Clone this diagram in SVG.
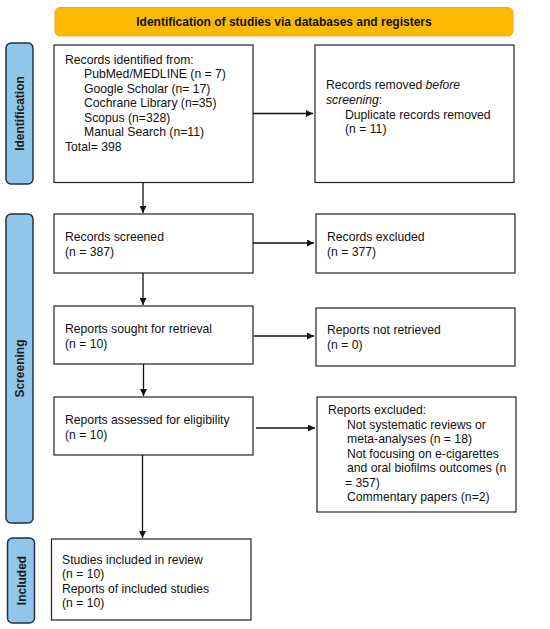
<svg xmlns="http://www.w3.org/2000/svg" width="550" height="629" viewBox="0 0 550 629">
<style>
.box{fill:#fff;stroke:#222;stroke-width:1.2}
.side{fill:#8fc6ea;stroke:#26313d;stroke-width:1.5}
.t{font-family:"Liberation Sans",Arial,sans-serif;font-size:12.2px;fill:#111}
.st{font-family:"Liberation Sans",Arial,sans-serif;font-size:12px;font-weight:bold;fill:#1a1a1a}
.bt{font-family:"Liberation Sans",Arial,sans-serif;font-size:12px;font-weight:bold;fill:#111}
.c{stroke:#111;stroke-width:1.3;fill:none;marker-end:url(#ah)}
</style>
<defs>
<marker id="ah" viewBox="0 0 10 10" refX="10" refY="5" markerWidth="7" markerHeight="7" markerUnits="userSpaceOnUse" orient="auto">
<path d="M0,0 L10,5 L0,10 Z" fill="#111"/>
</marker>
</defs>
<rect width="550" height="629" fill="#fff"/>
<g id="banner">
<rect x="55" y="7.5" width="458" height="28.5" rx="5" fill="#fbba00" stroke="#f0a830" stroke-width="1"/>
<text class="bt" x="284" y="26" text-anchor="middle">Identification of studies via databases and registers</text>
</g>
<g id="side-identification">
<rect class="side" x="6" y="43" width="27" height="141" rx="5"/>
<text class="st" transform="translate(24,113.5) rotate(-90)" text-anchor="middle">Identification</text>
</g>
<g id="side-screening">
<rect class="side" x="6" y="214" width="27" height="309" rx="5"/>
<text class="st" transform="translate(24,368.5) rotate(-90)" text-anchor="middle">Screening</text>
</g>
<g id="side-included">
<rect class="side" x="7.5" y="538" width="27" height="85" rx="5"/>
<text class="st" transform="translate(25.5,580.5) rotate(-90)" text-anchor="middle">Included</text>
</g>
<g id="records-identified">
<rect class="box" x="54" y="45" width="199" height="137.5"/>
<text class="t" x="65" y="63.5">Records identified from:</text>
<text class="t" x="84" y="78">PubMed/MEDLINE (n = 7)</text>
<text class="t" x="84" y="92.5">Google Scholar (n= 17)</text>
<text class="t" x="84" y="107">Cochrane Library (n=35)</text>
<text class="t" x="84" y="121.5">Scopus (n=328)</text>
<text class="t" x="84" y="136">Manual Search (n=11)</text>
<text class="t" x="65" y="150.5">Total= 398</text>
</g>
<g id="records-removed">
<rect class="box" x="315" y="45" width="199" height="137.5"/>
<text class="t" x="326" y="89">Records removed <tspan font-style="italic">before</tspan></text>
<text class="t" x="326" y="104"><tspan font-style="italic">screening</tspan>:</text>
<text class="t" x="345" y="118.5">Duplicate records removed</text>
<text class="t" x="345" y="133">(n = 11)</text>
</g>
<g id="records-screened">
<rect class="box" x="54" y="214" width="199" height="59"/>
<text class="t" x="65" y="241">Records screened</text>
<text class="t" x="65" y="256">(n = 387)</text>
</g>
<g id="records-excluded">
<rect class="box" x="316" y="214" width="199" height="59"/>
<text class="t" x="327" y="241">Records excluded</text>
<text class="t" x="327" y="256">(n = 377)</text>
</g>
<g id="reports-sought">
<rect class="box" x="54" y="306" width="199" height="58"/>
<text class="t" x="65" y="333">Reports sought for retrieval</text>
<text class="t" x="65" y="348">(n = 10)</text>
</g>
<g id="reports-not-retrieved">
<rect class="box" x="316" y="308" width="199" height="58"/>
<text class="t" x="327" y="334">Reports not retrieved</text>
<text class="t" x="327" y="349">(n = 0)</text>
</g>
<g id="reports-assessed">
<rect class="box" x="54" y="397" width="199" height="58"/>
<text class="t" x="65" y="424">Reports assessed for eligibility</text>
<text class="t" x="65" y="439">(n = 10)</text>
</g>
<g id="reports-excluded">
<rect class="box" x="317" y="397" width="199" height="115"/>
<text class="t" x="328" y="414">Reports excluded:</text>
<text class="t" x="347" y="428.5">Not systematic reviews or</text>
<text class="t" x="347" y="443">meta-analyses (n = 18)</text>
<text class="t" x="347" y="457.5">Not focusing on e-cigarettes</text>
<text class="t" x="347" y="472">and oral biofilms outcomes (n</text>
<text class="t" x="345" y="486.5">= 357)</text>
<text class="t" x="347" y="501">Commentary papers (n=2)</text>
</g>
<g id="studies-included">
<rect class="box" x="51.5" y="539" width="199.5" height="81"/>
<text class="t" x="62" y="563.5">Studies included in review</text>
<text class="t" x="62" y="578">(n = 10)</text>
<text class="t" x="62" y="592.5">Reports of included studies</text>
<text class="t" x="62" y="607">(n = 10)</text>
</g>
<g id="connectors">
<line class="c" x1="253" y1="113.5" x2="313" y2="113.5"/>
<line class="c" x1="143" y1="182.5" x2="143" y2="213"/>
<line class="c" x1="253" y1="243" x2="314" y2="243"/>
<line class="c" x1="143" y1="273" x2="143" y2="305"/>
<line class="c" x1="254" y1="336" x2="314" y2="336"/>
<line class="c" x1="143.5" y1="364" x2="143.5" y2="396"/>
<line class="c" x1="256" y1="428" x2="315" y2="428"/>
<line class="c" x1="142.5" y1="455" x2="142.5" y2="538"/>
</g>
</svg>
